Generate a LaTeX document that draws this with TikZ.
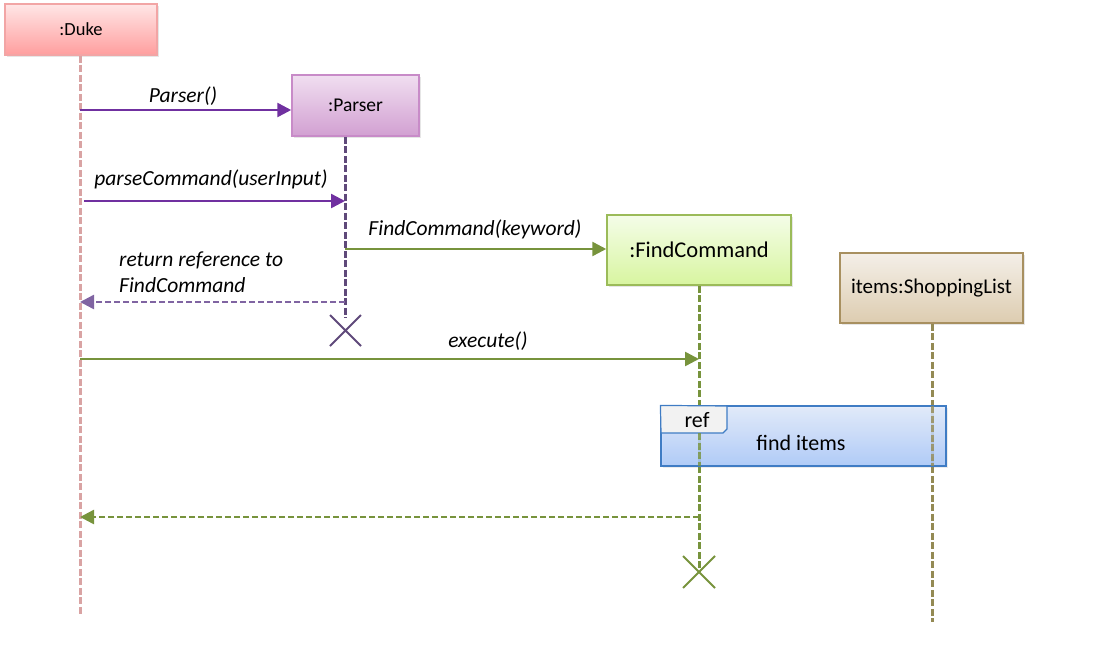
\documentclass[tikz,border=0pt]{standalone}
\usepackage{fontspec}
\setmainfont{Carlito}
\usetikzlibrary{arrows.meta,shadows}

\definecolor{dukeline}{HTML}{D9A3A3}
\definecolor{parserline}{HTML}{5F497A}
\definecolor{msgpurple}{HTML}{7030A0}
\definecolor{retpurple}{HTML}{8064A2}
\definecolor{msggreen}{HTML}{77933C}
\definecolor{shopline}{HTML}{948A54}

\tikzset{
  objbox/.style={draw, line width=1.5pt, minimum width=#1, inner sep=0pt,
    drop shadow={opacity=0.2, shadow xshift=2pt, shadow yshift=-2pt}},
  lifeline/.style={line width=3pt, dash pattern=on 7pt off 2.5pt},
  msg/.style={line width=2.5pt, -{Triangle[length=14pt,width=14pt]}},
  ret/.style={msg, dash pattern=on 6pt off 3pt},
  lbl/.style={font=\fontsize{21.5}{25}\selectfont\itshape, inner sep=0pt},
  destroy/.style={line width=1.8pt}
}

\begin{document}
\begin{tikzpicture}[x=1pt,y=-1pt]
\useasboundingbox (0,0) rectangle (1113,648);

% objects
\node[objbox=152pt, minimum height=51pt, draw={rgb,255:red,242;green,165;blue,165},
  top color={rgb,255:red,255;green,230;blue,230}, bottom color={rgb,255:red,255;green,158;blue,158},
  font=\fontsize{18.5}{21}\selectfont] (duke) at (81,29.5) {:Duke};
\node[objbox=127pt, minimum height=61pt, draw={rgb,255:red,200;green,139;blue,200},
  top color={rgb,255:red,240;green,222;blue,240}, bottom color={rgb,255:red,210;green,160;blue,210},
  font=\fontsize{19.5}{22}\selectfont] (parser) at (355.5,105.5) {:Parser};
\node[objbox=184pt, minimum height=70pt, draw={rgb,255:red,155;green,187;blue,89},
  top color={rgb,255:red,244;green,253;blue,232}, bottom color={rgb,255:red,216;green,245;blue,160},
  font=\fontsize{22.5}{26}\selectfont] (find) at (699,250) {:FindCommand};
\node[objbox=183pt, minimum height=70pt, draw={rgb,255:red,168;green,144;blue,96},
  top color={rgb,255:red,244;green,239;blue,232}, bottom color={rgb,255:red,221;green,204;blue,176},
  font=\fontsize{21}{24}\selectfont] (shop) at (931.5,288) {items:ShoppingList};

% lifeline ends
\coordinate (dukeEnd) at (80,615);
\coordinate (parserEnd) at (345,318);
\coordinate (findEnd) at (699,572);
\coordinate (shopEnd) at (932,622);

\draw[lifeline, dukeline] (duke.south -| dukeEnd) -- (dukeEnd);
\draw[lifeline, parserline] (parser.south -| parserEnd) -- (parserEnd);
\draw[lifeline, msggreen] (find.south -| findEnd) -- (findEnd);
\draw[lifeline, shopline] (shop.south -| shopEnd) -- (shopEnd);

% ref frame
\node[draw={rgb,255:red,63;green,124;blue,196}, line width=1.2pt, minimum width=285pt, minimum height=60pt,
  top color={rgb,255:red,224;green,234;blue,252}, bottom color={rgb,255:red,166;green,198;blue,250},
  fill opacity=0.85, inner sep=0pt,
  drop shadow={opacity=0.15, shadow xshift=2pt, shadow yshift=-2pt}] (refbox) at (803.5,436) {};
\draw[draw={rgb,255:red,63;green,124;blue,196}, line width=1.2pt, fill={rgb,255:red,242;green,242;blue,242}]
  (refbox.north west) -- (727,406) -- (727,429) -- (723,433) -- (661,433) -- cycle;
\node[font=\fontsize{22}{25}\selectfont, inner sep=0pt] (reflbl) at (697,420) {ref};
\node[font=\fontsize{22}{25}\selectfont, inner sep=0pt] (refname) at (801,443) {find items};
\draw[lifeline, msggreen, opacity=0.8] (699,433) -- (699,466);
\draw[lifeline, shopline, opacity=0.8] (932,406) -- (932,466);

% messages
\coordinate (m1) at (80,110);
\draw[msg, msgpurple] (m1) -- (parser.west |- m1);
\node[lbl] (m1lbl) at (183,96) {Parser()};

\coordinate (m2) at (84,201);
\coordinate (m2e) at (345,201);
\draw[msg, msgpurple] (m2) -- (m2e);
\node[lbl] (m2lbl) at (211,179) {parseCommand(userInput)};

\coordinate (m3) at (345,249);
\draw[msg, msggreen] (m3) -- (find.west |- m3);
\node[lbl] (m3lbl) at (475,229) {FindCommand(keyword)};

\coordinate (r1) at (345,302);
\coordinate (r1e) at (80,302);
\draw[ret, retpurple] (r1) -- (r1e);
\node[lbl, anchor=west, align=left] (r1lbl) at (119,272) {return reference to\\[1pt]FindCommand};

\coordinate (m4) at (80,359);
\coordinate (m4e) at (699,359);
\draw[msg, msggreen] (m4) -- (m4e);
\node[lbl] (m4lbl) at (488,341) {execute()};

\coordinate (r2) at (699,517);
\coordinate (r2e) at (80,517);
\draw[ret, msggreen] (r2) -- (r2e);

% destruction
\draw[destroy, parserline] (330,315) -- (361,346) (330,346) -- (361,315);
\draw[destroy, msggreen] (683,556) -- (715,588) (683,588) -- (715,556);
\end{tikzpicture}
\end{document}
